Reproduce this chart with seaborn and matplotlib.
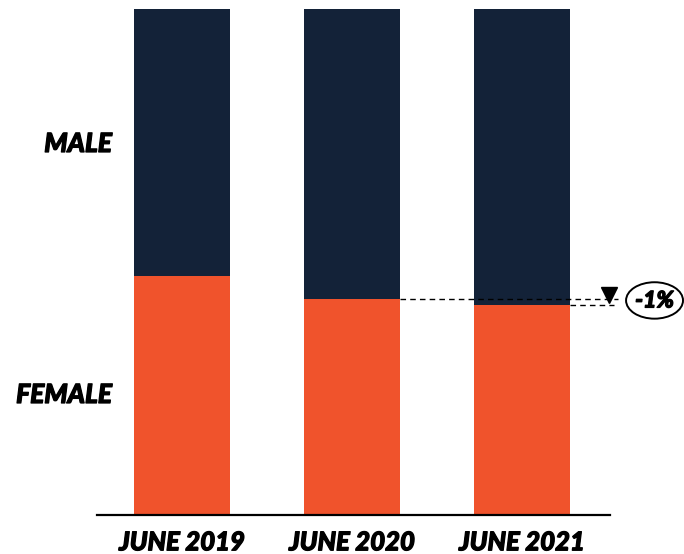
import matplotlib
matplotlib.use("Agg")
import matplotlib.pyplot as plt
import matplotlib.patheffects as pe
from matplotlib.patches import Ellipse
import pandas as pd
import seaborn as sns

periods = ["JUNE 2019", "JUNE 2020", "JUNE 2021"]
female_share = [47.2, 42.6, 41.6]
male_share = [100 - f for f in female_share]
change_label = "-1%"

NAVY = "#132238"
ORANGE = "#F0532C"

sns.set_theme(style="white")
plt.rcParams["font.family"] = ["Lato", "DejaVu Sans"]

df = pd.DataFrame({
    "period": periods,
    "female": female_share,
    "total": [f + m for f, m in zip(female_share, male_share)],
})

fig = plt.figure(figsize=(6.84, 5.54), dpi=100)
ax = fig.add_axes([97 / 684, 1 - 515 / 554, (610 - 97) / 684, (515 - 9) / 554])

bar_w = 0.565
sns.barplot(data=df, x="period", y="total", color=NAVY, width=bar_w,
            saturation=1, ax=ax, linewidth=0)
sns.barplot(data=df, x="period", y="female", color=ORANGE, width=bar_w,
            saturation=1, ax=ax, linewidth=0)

heavy = [pe.withStroke(linewidth=0.9, foreground="black")]

ax.set_xlim(-0.5, 2.518)
ax.set_ylim(0, 100)
ax.set_xlabel("")
ax.set_ylabel("")
ax.set_yticks([])
for side in ("top", "right", "left"):
    ax.spines[side].set_visible(False)
ax.spines["bottom"].set_color("black")
ax.spines["bottom"].set_linewidth(1.6)
ax.tick_params(axis="x", length=0, pad=11)
ax.set_xticks(range(len(periods)))
ax.set_xticklabels(periods, fontsize=18.5, fontweight="black", style="italic",
                   color="black")
for lbl in ax.get_xticklabels():
    lbl.set_path_effects(heavy)

# series labels on the left
ax.text(-0.5 + (112 - 97) / 170, 100 - 100 * (144 - 9) / 506, "MALE",
        ha="right", va="center", fontsize=19, fontweight="black",
        style="italic", color="black", clip_on=False, path_effects=heavy)
ax.text(-0.5 + (112 - 97) / 170, 100 - 100 * (395 - 9) / 506, "FEMALE",
        ha="right", va="center", fontsize=19, fontweight="black",
        style="italic", color="black", clip_on=False, path_effects=heavy)

# change annotation between the last two periods
half = bar_w / 2
ax.plot([1 + half, 2.565], [female_share[1]] * 2, ls=(0, (4, 3)), lw=1.0,
        color="black", clip_on=False)
ax.plot([2 + half, 2.54], [female_share[2]] * 2, ls=(0, (4, 3)), lw=1.0,
        color="black", clip_on=False)
ax.plot([2.512], [43.4], marker="v", markersize=11, color="black",
        clip_on=False, linestyle="none")
ax.add_patch(Ellipse((2.78, 42.4), 0.335, 7.2, fill=False, edgecolor="black",
                     lw=1.4, clip_on=False))
ax.text(2.78, 42.3, change_label, ha="center", va="center", fontsize=16.5,
        fontweight="black", style="italic", color="black", clip_on=False,
        path_effects=heavy)

fig.savefig("out.png", dpi=100)
